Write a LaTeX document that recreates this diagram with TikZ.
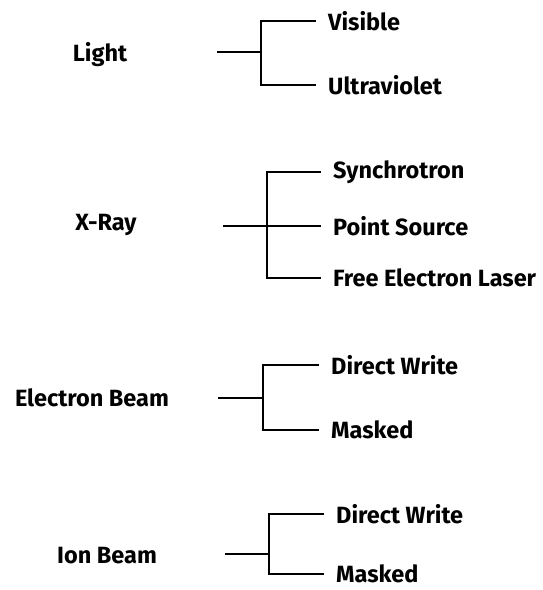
\documentclass[tikz,border=0pt]{standalone}
\usepackage{fontspec}
\setmainfont{Fira Sans}
\begin{document}
\begin{tikzpicture}[x=1pt,y=-1pt,
  lab/.style={font=\fontsize{23.5}{26}\selectfont\bfseries, inner sep=0pt},
  leaf/.style={lab, anchor=west, inner xsep=13pt},
  ln/.style={line width=2.4pt, line cap=rect, line join=miter}]
\useasboundingbox (0,0) rectangle (543,590);
% ---- Light
\node[lab] (light) at (100,55) {Light};
\coordinate (ls) at (218,52);
\coordinate (lj) at (261,52);
\coordinate (lt) at (261,21);
\coordinate (lb) at (261,85);
\node[leaf] (vis) at (315,21) {Visible};
\node[leaf] (uv) at (315,85) {Ultraviolet};
\draw[ln] (ls) -- (lj);
\draw[ln] (vis.west) -- (lt) -- (lb) -- (uv.west);
% ---- X-Ray
\node[lab] (xray) at (106,225) {X-Ray};
\coordinate (xs) at (224,226);
\coordinate (xt) at (267,172);
\coordinate (xb) at (267,278);
\node[leaf] (syn) at (320,172) {Synchrotron};
\node[leaf] (pts) at (320,226) {Point Source};
\node[leaf] (fel) at (320,278) {Free Electron Laser};
\draw[ln] (xs) -- (pts.west);
\draw[ln] (syn.west) -- (xt) -- (xb) -- (fel.west);
% ---- Electron Beam
\node[lab] (eb) at (92,398) {Electron Beam};
\coordinate (es) at (219,398);
\coordinate (ej) at (263,398);
\coordinate (et) at (263,365);
\coordinate (ebt) at (263,430);
\node[leaf] (edw) at (318,365) {Direct Write};
\node[leaf] (emk) at (318,430) {Masked};
\draw[ln] (es) -- (ej);
\draw[ln] (edw.west) -- (et) -- (ebt) -- (emk.west);
% ---- Ion Beam
\node[lab] (ib) at (107,556) {Ion Beam};
\coordinate (is) at (226,554);
\coordinate (ij) at (269,554);
\coordinate (it) at (269,514);
\coordinate (ibt) at (269,574);
\node[leaf] (idw) at (323,514) {Direct Write};
\node[leaf] (imk) at (323,574) {Masked};
\draw[ln] (is) -- (ij);
\draw[ln] (idw.west) -- (it) -- (ibt) -- (imk.west);
\end{tikzpicture}
\end{document}
